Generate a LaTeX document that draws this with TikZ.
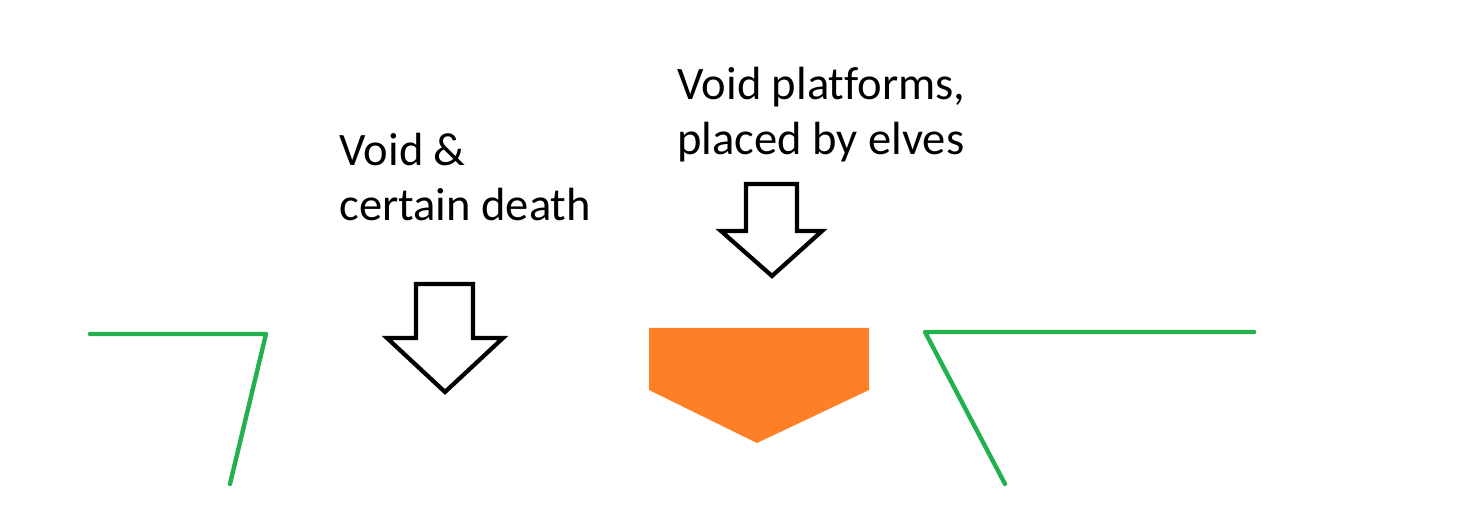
\documentclass[tikz,border=0pt]{standalone}
\usepackage{fontspec}
\setmainfont[Ligatures=NoCommon]{Carlito}
\definecolor{ledge}{RGB}{34,177,76}
\definecolor{platform}{RGB}{255,127,39}
\begin{document}
\begin{tikzpicture}[x=0.02cm,y=-0.02cm]
%%%%%%%%%%%%%%%%%%%%%%%%%%%%%%%%%%%%%%%%%%%%%%%%%%%%%%%%
% STYLE
\tikzstyle{label}=[anchor=north west,inner sep=0pt,align=left,font=\fontsize{26.5}{31.3}\selectfont]
\tikzstyle{bigarrow}=[draw,line width=2.4pt,line join=miter,fill=white]
\tikzstyle{cliff}=[draw=ledge,line width=2.5pt,line cap=round,line join=round]

\useasboundingbox (0,0) rectangle (1468,530);

%%%%%%%%%%%%%%%%%%%%%%%%%%%%%%%%%%%%%%%%%%%%%%%%%%%%%%%%
% NODES
\node[label] (death) at (339,133) {Void \&\\certain death};
\node[label] (elves) at (677,67) {Void platforms,\\placed by elves};

%%%%%%%%%%%%%%%%%%%%%%%%%%%%%%%%%%%%%%%%%%%%%%%%%%%%%%%%
% SHAPES
\path[cliff] (90,334) -- (266,334) -- (230,484);
\path[cliff] (1254,332) -- (925,332) -- (1005,484);

\path[bigarrow] (416,284) -- (473,284) -- (473,338) -- (503,338) -- (445,392)
  -- (387,338) -- (416,338) -- cycle;
\path[bigarrow] (746,184) -- (797,184) -- (797,231) -- (822,231) -- (772,276)
  -- (721,231) -- (746,231) -- cycle;

\fill[platform] (649,328) -- (869,328) -- (869,390) -- (757,443) -- (649,390) -- cycle;

\end{tikzpicture}
\end{document}
